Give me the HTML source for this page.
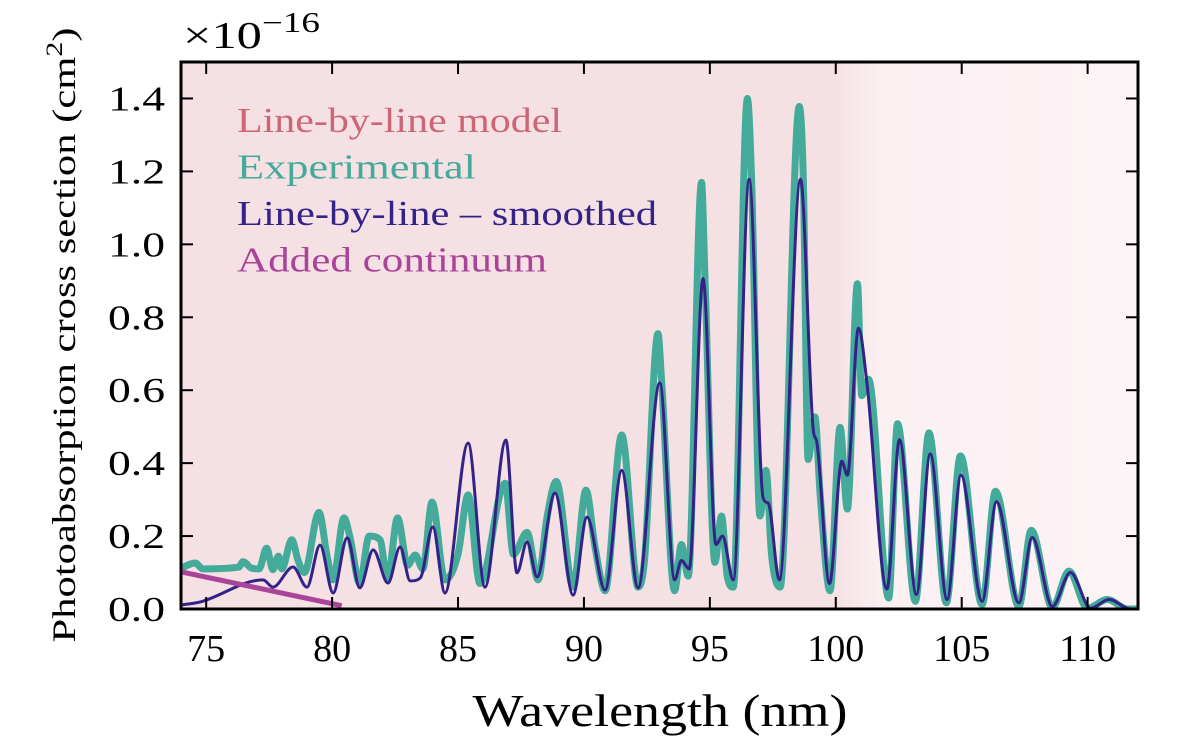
<!DOCTYPE html>
<html><head><meta charset="utf-8">
<style>
html,body{margin:0;padding:0;background:#fff;}
svg{display:block;font-family:"Liberation Serif","DejaVu Serif",serif;}
</style></head>
<body>
<svg id="chart" width="1200" height="745" viewBox="0 0 1200 745">
  <defs>
    <linearGradient id="modelGrad" x1="0" x2="1" y1="0" y2="0">
      <stop offset="0" stop-color="#f5e0e4"/>
      <stop offset="0.68" stop-color="#f5e0e4"/>
      <stop offset="0.73" stop-color="#fbeff2"/>
      <stop offset="1" stop-color="#fcf4f6"/>
    </linearGradient>
    <clipPath id="plotClip"><rect x="181" y="62" width="957" height="547"/></clipPath>
  </defs>
  <g id="plot" clip-path="url(#plotClip)"></g>
  <g id="axes"></g>
</svg>
<script>
const xTicks = [75, 80, 85, 90, 95, 100, 105, 110];
const yTicks = [0.0, 0.2, 0.4, 0.6, 0.8, 1.0, 1.2, 1.4];
const yTickLabels = ["0.0","0.2","0.4","0.6","0.8","1.0","1.2","1.4"];

const smoothX = [74.0,74.75,77.26,77.65,78.45,79.0,79.52,80.04,80.6,81.1,81.63,82.22,82.7,83.1,83.5,84.0,84.48,85.4,86.07,86.9,87.34,87.74,88.14,88.85,89.57,90.12,90.84,91.5,92.15,93.01,93.6,93.87,94.18,94.73,95.24,95.5,95.93,96.56,97.12,97.32,97.76,98.6,99.11,99.24,99.75,100.24,100.46,100.9,101.23,102.03,102.53,103.2,103.75,104.42,104.97,105.81,106.38,107.27,107.8,108.6,109.32,110.12,110.85,111.7,112.0];
const smoothY = [0.011,0.019,0.08,0.06,0.115,0.06,0.175,0.044,0.195,0.058,0.162,0.071,0.17,0.077,0.085,0.225,0.044,0.455,0.06,0.463,0.099,0.184,0.088,0.318,0.038,0.252,0.052,0.38,0.058,0.62,0.08,0.133,0.11,0.906,0.177,0.2,0.08,1.178,0.303,0.29,0.08,1.178,0.488,0.46,0.07,0.405,0.367,0.77,0.624,0.055,0.464,0.04,0.425,0.026,0.367,0.021,0.294,0.017,0.196,0.007,0.10,0.002,0.026,0.0,0.0];

const expX = [74.0,74.56,74.87,76.3,76.46,76.8,77.1,77.4,77.65,77.87,78.0,78.4,78.65,78.9,79.48,79.8,80.04,80.47,80.7,81.1,81.47,81.9,82.2,82.6,83.0,83.3,83.6,83.97,84.48,85.0,85.4,85.87,86.87,87.2,87.74,88.18,88.53,88.9,89.57,90.08,90.44,90.84,91.5,92.15,92.4,92.94,93.08,93.6,93.87,94.14,94.67,94.8,95.2,95.46,95.69,95.93,96.49,96.66,96.99,97.23,97.45,97.79,98.55,98.71,98.9,99.17,99.38,99.77,100.17,100.46,100.86,101.03,101.3,102.1,102.45,103.16,103.7,104.39,104.95,105.81,106.34,107.27,107.76,108.6,109.26,109.99,110.78,111.58,112.0];
const expY = [0.112,0.126,0.11,0.115,0.13,0.112,0.11,0.167,0.108,0.145,0.11,0.19,0.133,0.10,0.265,0.145,0.08,0.25,0.2,0.07,0.2,0.19,0.08,0.25,0.12,0.148,0.11,0.293,0.08,0.15,0.313,0.07,0.345,0.15,0.21,0.08,0.25,0.35,0.06,0.326,0.17,0.05,0.477,0.06,0.13,0.755,0.63,0.05,0.177,0.09,1.17,0.92,0.128,0.255,0.09,0.06,1.40,1.17,0.255,0.38,0.148,0.06,1.378,1.18,0.41,0.527,0.313,0.05,0.498,0.274,0.892,0.585,0.63,0.03,0.508,0.021,0.483,0.017,0.42,0.012,0.323,0.007,0.216,0.004,0.104,0.002,0.026,0.0,0.0];

const contX = [74.0, 80.38];
const contY = [0.102, 0.009];

const legendLabels = ["Line-by-line model","Experimental","Line-by-line \u2013 smoothed","Added continuum"];
const legendColors = ["#cc6677","#44aa99","#332288","#aa4499"];
const legendWidths = [325, 239, 420, 310];

const L=181,R=1138,T=62,B=609, XMIN=74, XMAX=112, YMIN=0, YMAX=1.5;
function sx(v){return L+(v-XMIN)/(XMAX-XMIN)*(R-L);}
function sy(v){return B-(v-YMIN)/(YMAX-YMIN)*(B-T);}
const NS="http://www.w3.org/2000/svg";
function mk(tag,attrs,parent){const e=document.createElementNS(NS,tag);for(const k in attrs)e.setAttribute(k,attrs[k]);parent.appendChild(e);return e;}

function monotonePath(xs,ys){
  const px=xs.map(sx), py=ys.map(sy), n=px.length;
  if(n<3){return "M"+px.map((x,i)=>x.toFixed(2)+","+py[i].toFixed(2)).join("L");}
  const d=[],m=new Array(n);
  for(let i=0;i<n-1;i++) d.push((py[i+1]-py[i])/(px[i+1]-px[i]));
  m[0]=d[0]; m[n-1]=d[n-2];
  for(let i=1;i<n-1;i++){ m[i]=(d[i-1]*d[i]<=0)?0:(d[i-1]+d[i])/2; }
  for(let i=0;i<n-1;i++){
    if(d[i]===0){m[i]=0;m[i+1]=0;continue;}
    const a=m[i]/d[i], b=m[i+1]/d[i], s=a*a+b*b;
    if(s>9){const t=3/Math.sqrt(s);m[i]=t*a*d[i];m[i+1]=t*b*d[i];}
  }
  let p="M"+px[0].toFixed(2)+","+py[0].toFixed(2);
  for(let i=0;i<n-1;i++){
    const h=(px[i+1]-px[i])/3;
    p+="C"+(px[i]+h).toFixed(2)+","+(py[i]+m[i]*h).toFixed(2)+" "+(px[i+1]-h).toFixed(2)+","+(py[i+1]-m[i+1]*h).toFixed(2)+" "+px[i+1].toFixed(2)+","+py[i+1].toFixed(2);
  }
  return p;
}

const plot=document.getElementById('plot');
const axes=document.getElementById('axes');

const bg=mk('rect',{x:L,y:T,width:R-L,height:B-T,fill:'url(#modelGrad)'},plot);



const exp=mk('path',{d:monotonePath(expX,expY),fill:'none',stroke:'#44aa99','stroke-width':7,'stroke-linejoin':'round'},plot);



const sm=mk('path',{d:monotonePath(smoothX,smoothY),fill:'none',stroke:'#332288','stroke-width':3,'stroke-linejoin':'round'},plot);



const ct=mk('line',{x1:sx(contX[0]),y1:sy(contY[0]),x2:sx(contX[1]),y2:sy(contY[1]),stroke:'#aa4499','stroke-width':5},plot);



xTicks.forEach(v=>{
  const x=sx(v);
  const t1=mk('line',{x1:x,y1:B,x2:x,y2:B-12,stroke:'#000','stroke-width':2},axes);
  
  
  const t2=mk('line',{x1:x,y1:T,x2:x,y2:T+12,stroke:'#000','stroke-width':2},axes);
  
  
  const s=String(v);
  const lb=mk('text',{x:x,y:661,'text-anchor':'middle','font-size':38,fill:'#000',textLength:s.length*19,lengthAdjust:'spacingAndGlyphs'},axes);
  lb.textContent=s;
  
  
});
yTicks.forEach((v,i)=>{
  const y=sy(v);
  const t1=mk('line',{x1:L,y1:y,x2:L+12,y2:y,stroke:'#000','stroke-width':2},axes);
  
  
  const t2=mk('line',{x1:R,y1:y,x2:R-12,y2:y,stroke:'#000','stroke-width':2},axes);
  
  
  const lb=mk('text',{x:165,y:y+12,'text-anchor':'end','font-size':35,fill:'#000',textLength:57,lengthAdjust:'spacingAndGlyphs'},axes);
  lb.textContent=yTickLabels[i];
  
  
});

const frame=mk('rect',{x:L,y:T,width:R-L,height:B-T,fill:'none',stroke:'#000','stroke-width':3},axes);



legendLabels.forEach((s,i)=>{
  const t=mk('text',{x:237,y:132+i*46.5,'font-size':35,fill:legendColors[i],textLength:legendWidths[i],lengthAdjust:'spacingAndGlyphs'},axes);
  t.textContent=s;
  
  
});

const xl=mk('text',{x:660,y:726,'text-anchor':'middle','font-size':45,fill:'#000',textLength:375,lengthAdjust:'spacingAndGlyphs'},axes);
xl.textContent='Wavelength (nm)';



const yl=mk('text',{x:0,y:0,'text-anchor':'middle','font-size':33,fill:'#000',transform:'translate(75,335) rotate(-90)',textLength:615,lengthAdjust:'spacingAndGlyphs'},axes);
yl.innerHTML='Photoabsorption cross section (cm<tspan dy="-13" font-size="23">2</tspan><tspan dy="13">)</tspan>';



const off=mk('text',{x:183,y:48,'font-size':38,fill:'#000',textLength:137,lengthAdjust:'spacingAndGlyphs'},axes);
off.innerHTML='\u00d710<tspan dy="-16" font-size="28">\u221216</tspan>';


</script>
</body></html>
